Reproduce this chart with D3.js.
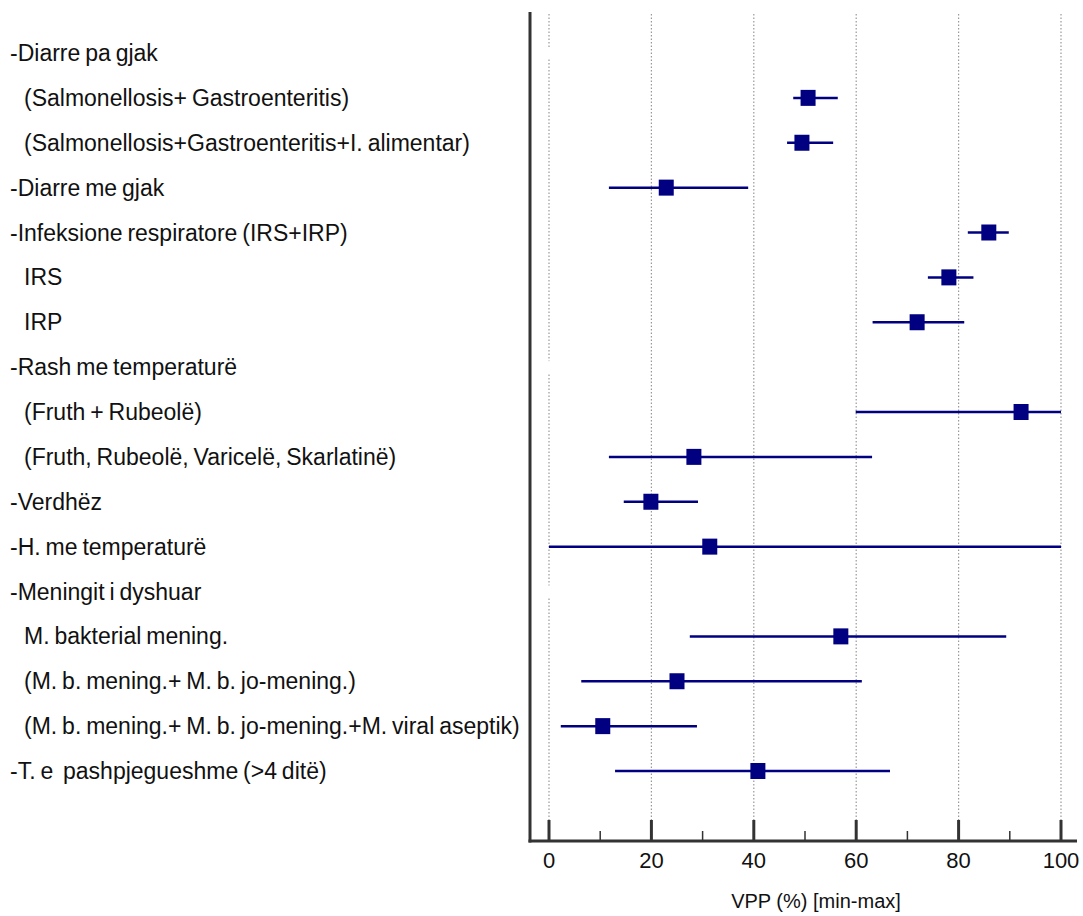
<!DOCTYPE html>
<html>
<head>
<meta charset="utf-8">
<script src="https://d3js.org/d3.v7.min.js"></script>
<style>
  body { margin: 0; background: #fff; }
  text { font-family: "Liberation Sans", Arial, sans-serif; fill: #111; }
</style>
</head>
<body>
<div id="chart"></div>
<script>
    // row labels, top to bottom (leading space = indented sub-row)
    const labels = [
        '-Diarre pa gjak',
        ' (Salmonellosis+ Gastroenteritis)',
        ' (Salmonellosis+Gastroenteritis+I. alimentar)',
        '-Diarre me gjak',
        '-Infeksione respiratore (IRS+IRP)',
        ' IRS',
        ' IRP',
        '-Rash me temperaturë',
        ' (Fruth + Rubeolë)',
        ' (Fruth, Rubeolë, Varicelë, Skarlatinë)',
        '-Verdhëz',
        '-H. me temperaturë',
        '-Meningit i dyshuar',
        ' M. bakterial mening.',
        ' (M. b. mening.+ M. b. jo-mening.)',
        ' (M. b. mening.+ M. b. jo-mening.+M. viral aseptik)',
        '-T. e  pashpjegueshme (>4 ditë)'
    ];
    // VPP estimate, min and max (null = heading row without value)
    const vpp    = [null, 50.6, 49.4, 22.9, 85.9, 78.1, 71.9, null, 92.2, 28.3, 19.9, 31.4, null, 57.0, 25.0, 10.5, 40.8];
    const vppMin = [null, 47.7, 46.5, 11.7, 81.8, 74.0, 63.2, null, 59.9, 11.7, 14.6, 0,    null, 27.5, 6.3,  2.3,  12.9];
    const vppMax = [null, 56.4, 55.5, 38.9, 89.8, 82.9, 81.1, null, 100,  63.1, 29.1, 100,  null, 89.3, 61.1, 28.9, 66.6];

    const majorTicks = [0, 20, 40, 60, 80, 100];
    const minorTicks = [10, 30, 50, 70, 90];

    const W = 1083, H = 916;
    const axisX = 530, axisY = 841, topY = 12, rightX = 1077;

    const svg = d3.select('#chart').append('svg')
        .attr('width', W)
        .attr('height', H);

    const x = d3.scaleLinear().domain([0, 100]).range([549, 1061]);
    const y = d3.scalePoint().domain(d3.range(labels.length)).range([53, 771]);

    // dotted grid
    svg.selectAll('.grid')
        .data(majorTicks)
        .enter().append('line')
        .attr('x1', d => x(d)).attr('x2', d => x(d))
        .attr('y1', topY + 2).attr('y2', axisY)
        .attr('stroke', '#999')
        .attr('stroke-width', 1.2)
        .attr('stroke-dasharray', '1.5,2');

    // heading rows carry an invisible marker at 0 which breaks the grid line
    svg.selectAll('.blank')
        .data(d3.range(labels.length).filter(i => vpp[i] === null))
        .enter().append('rect')
        .attr('x', x(0) - 3).attr('y', i => y(i) - 6)
        .attr('width', 6).attr('height', 12)
        .attr('fill', '#fff');

    // ranges
    const rows = d3.range(labels.length).filter(i => vpp[i] !== null);
    svg.selectAll('.range')
        .data(rows)
        .enter().append('line')
        .attr('x1', i => x(vppMin[i])).attr('x2', i => x(vppMax[i]))
        .attr('y1', i => y(i)).attr('y2', i => y(i))
        .attr('stroke', '#000080')
        .attr('stroke-width', 2.5);

    svg.selectAll('.point')
        .data(rows)
        .enter().append('rect')
        .attr('x', i => x(vpp[i]) - 7.5)
        .attr('y', i => y(i) - 8)
        .attr('width', 15).attr('height', 16)
        .attr('fill', '#000080');

    // axes
    svg.append('line')
        .attr('x1', axisX).attr('x2', axisX)
        .attr('y1', topY).attr('y2', axisY + 1.5)
        .attr('stroke', '#333').attr('stroke-width', 3);
    svg.append('line')
        .attr('x1', axisX - 1.5).attr('x2', rightX)
        .attr('y1', axisY).attr('y2', axisY)
        .attr('stroke', '#333').attr('stroke-width', 3);

    svg.selectAll('.major')
        .data(majorTicks)
        .enter().append('line')
        .attr('x1', d => x(d)).attr('x2', d => x(d))
        .attr('y1', axisY - 21).attr('y2', axisY)
        .attr('stroke', '#333').attr('stroke-width', 3);
    svg.selectAll('.minor')
        .data(minorTicks)
        .enter().append('line')
        .attr('x1', d => x(d)).attr('x2', d => x(d))
        .attr('y1', axisY - 10).attr('y2', axisY)
        .attr('stroke', '#333').attr('stroke-width', 1.5);

    svg.selectAll('.tick-label')
        .data(majorTicks)
        .enter().append('text')
        .attr('x', d => x(d))
        .attr('y', 868)
        .attr('text-anchor', 'middle')
        .style('font-size', '22px')
        .text(d => d);

    svg.append('text')
        .attr('x', 816)
        .attr('y', 908)
        .attr('text-anchor', 'middle')
        .style('font-size', '20px')
        .text('VPP (%) [min-max]');

    svg.selectAll('.row-label')
        .data(labels)
        .enter().append('text')
        .attr('x', d => d.startsWith(' ') ? 24 : 10)
        .attr('y', (d, i) => y(i))
        .attr('dy', '.35em')
        .style('font-size', '23px')
        .style('word-spacing', '-1.5px')
        .style('white-space', 'pre')
        .text(d => d.trim());
</script>
</body>
</html>
